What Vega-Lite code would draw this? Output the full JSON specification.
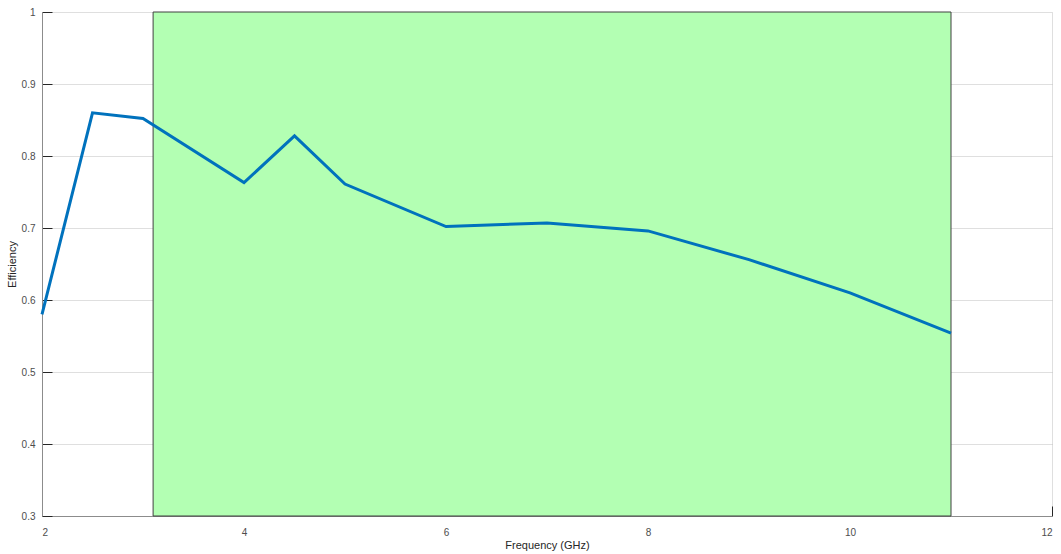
{
  "$schema": "https://vega.github.io/schema/vega-lite/v6.json",
  "width": 1010,
  "height": 504,
  "autosize": {"type": "none"},
  "padding": {"left": 42, "top": 12, "right": 9, "bottom": 38},
  "background": "white",
  "config": {
    "view": {"stroke": null},
    "font": "Liberation Sans",
    "axis": {
      "zindex": 1,
      "domainColor": "#8c8c8c",
      "domainWidth": 1,
      "tickColor": "#262626",
      "tickSize": -10,
      "gridColor": "#262626",
      "gridOpacity": 0.15,
      "gridWidth": 1,
      "labelColor": "#4d4d4d",
      "labelFontSize": 10,
      "titleColor": "#262626",
      "titleFontSize": 11,
      "titleFontWeight": "normal",
      "format": "~g"
    }
  },
  "datasets": {
    "band": [{"f0": 3.1, "f1": 11, "e0": 0.3, "e1": 1}],
    "eff": [
      {"freq": 2, "eff": 0.58},
      {"freq": 2.5, "eff": 0.86},
      {"freq": 3, "eff": 0.852},
      {"freq": 4, "eff": 0.763},
      {"freq": 4.5, "eff": 0.828},
      {"freq": 5, "eff": 0.761},
      {"freq": 6, "eff": 0.702},
      {"freq": 7, "eff": 0.707},
      {"freq": 8, "eff": 0.696},
      {"freq": 9, "eff": 0.656},
      {"freq": 10, "eff": 0.61},
      {"freq": 11, "eff": 0.554}
    ]
  },
  "layer": [
    {
      "data": {"name": "band"},
      "mark": {"type": "rect", "fill": "#b3ffb3", "stroke": "#404040", "strokeWidth": 1},
      "encoding": {
        "x": {"field": "f0", "type": "quantitative"},
        "x2": {"field": "f1"},
        "y": {"field": "e0", "type": "quantitative"},
        "y2": {"field": "e1"}
      }
    },
    {
      "data": {"name": "eff"},
      "mark": {"type": "line", "color": "#0072BD", "strokeWidth": 3, "strokeJoin": "miter"},
      "encoding": {
        "x": {
          "field": "freq",
          "type": "quantitative",
          "scale": {"domain": [2, 12], "nice": false, "zero": false},
          "axis": {"title": "Frequency (GHz)", "format": "~g", "values": [2, 4, 6, 8, 10, 12], "labelPadding": 21, "titlePadding": 2}
        },
        "y": {
          "field": "eff",
          "type": "quantitative",
          "scale": {"domain": [0.3, 1], "nice": false, "zero": false},
          "axis": {"title": "Efficiency", "format": "~g", "values": [0.3, 0.4, 0.5, 0.6, 0.7, 0.8, 0.9, 1], "labelPadding": 17, "titlePadding": 4}
        }
      }
    }
  ]
}
